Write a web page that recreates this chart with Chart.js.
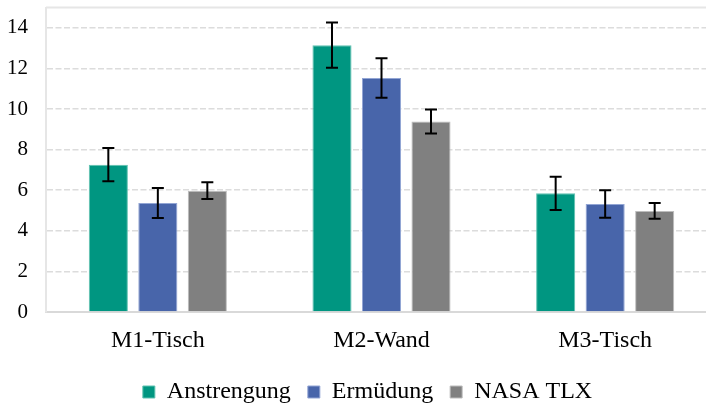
<!DOCTYPE html>
<html>
<head>
<meta charset="utf-8">
<script src="https://cdn.jsdelivr.net/npm/chart.js@4"></script>
<style>
  html, body { margin: 0; padding: 0; background: #fff; overflow: hidden; }
  #wrap { width: 735px; height: 437px; margin-top: -23px; }
</style>
</head>
<body>
<div id="wrap"><canvas id="chart"></canvas></div>
<script>
const categories = ['M1-Tisch', 'M2-Wand', 'M3-Tisch'];
const seriesNames = ['Anstrengung', 'Ermüdung', 'NASA TLX'];
const anstrengung = [7.26, 13.15, 5.85];
const ermuedung = [5.37, 11.53, 5.32];
const nasaTlx = [5.98, 9.39, 4.98];
const errAnstrengung = [0.82, 1.12, 0.82];
const errErmuedung = [0.74, 0.97, 0.68];
const errNasaTlx = [0.41, 0.59, 0.39];

const errors = [errAnstrengung, errErmuedung, errNasaTlx];

// draws the error whiskers and the plot frame
const errorBars = {
  id: 'errorBars',
  afterLayout(chart) {
    // legend sits a bit right of the plot centre in the original
    chart.legend.left += 9;
    chart.legend.right += 9;
  },
  afterDatasetsDraw(chart) {
    const ctx = chart.ctx;
    const y = chart.scales.y;
    const area = chart.chartArea;
    ctx.save();
    ctx.strokeStyle = '#e6e6e6';
    ctx.lineWidth = 2;
    ctx.beginPath();
    ctx.moveTo(area.left, area.top);
    ctx.lineTo(area.right, area.top);
    ctx.stroke();
    ctx.strokeStyle = '#000';
    ctx.lineWidth = 2;
    chart.data.datasets.forEach((ds, di) => {
      const meta = chart.getDatasetMeta(di);
      meta.data.forEach((bar, i) => {
        const v = ds.data[i];
        const e = errors[di][i];
        const top = y.getPixelForValue(v + e);
        const bot = y.getPixelForValue(v - e);
        ctx.beginPath();
        ctx.moveTo(bar.x, top);
        ctx.lineTo(bar.x, bot);
        ctx.moveTo(bar.x - 6, top);
        ctx.lineTo(bar.x + 6, top);
        ctx.moveTo(bar.x - 6, bot);
        ctx.lineTo(bar.x + 6, bot);
        ctx.stroke();
      });
    });
    ctx.restore();
  }
};

new Chart(document.getElementById('chart'), {
  type: 'bar',
  data: {
    labels: categories,
    datasets: [
      { label: seriesNames[0], data: anstrengung, backgroundColor: '#009681', borderColor: '#5fc2b1', borderWidth: 1 },
      { label: seriesNames[1], data: ermuedung, backgroundColor: '#4865aa', borderColor: '#92a5d4', borderWidth: 1 },
      { label: seriesNames[2], data: nasaTlx, backgroundColor: '#808080', borderColor: '#bdbdbd', borderWidth: 1 }
    ]
  },
  options: {
    responsive: true,
    maintainAspectRatio: false,
    animation: false,
    categoryPercentage: 0.664,
    barPercentage: 0.79,
    layout: { autoPadding: false, padding: { top: 7, left: 0, right: 18, bottom: 0 } },
    plugins: {
      tooltip: { enabled: false },
      legend: {
        position: 'bottom',
        labels: {
          font: { family: 'Liberation Serif', size: 24 },
          color: '#000',
          boxWidth: 12,
          boxHeight: 12,
          padding: 17
        }
      }
    },
    scales: {
      x: {
        grid: { display: false },
        border: { display: true, color: '#d9d9d9', width: 2 },
        ticks: { font: { family: 'Liberation Serif', size: 24 }, color: '#000', padding: 6 },
        afterFit(scale) { scale.height = 51; }
      },
      y: {
        min: 0,
        max: 15,
        ticks: {
          stepSize: 2,
          includeBounds: false,
          font: { family: 'Liberation Serif', size: 21 },
          color: '#000',
          padding: 18
        },
        grid: { color: '#dcdcdc', lineWidth: 1.5, drawTicks: false },
        border: { display: true, color: '#e6e6e6', width: 2, dash: [6, 2.5] },
        afterFit(scale) { scale.width = 46; }
      }
    }
  },
  plugins: [errorBars]
});
</script>
</body>
</html>
